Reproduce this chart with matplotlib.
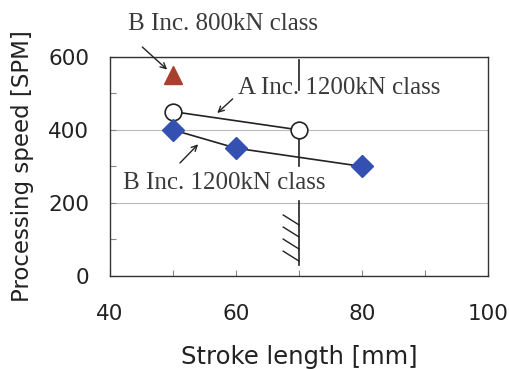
import numpy as np
import matplotlib
matplotlib.use('Agg')
import matplotlib.pyplot as plt

# donnees
stroke_a = [50, 70]
speed_a = [450, 400]
stroke_b = [50, 60, 80]
speed_b = [400, 350, 300]
stroke_b800 = [50]
speed_b800 = [550]
x_ticks = [40, 60, 80, 100]
y_ticks = [0, 200, 400, 600]
stroke_limit = 70

fig = plt.figure(figsize=(5.1, 3.69), dpi=100)
ax = fig.add_axes([0.2157, 0.252, 0.741, 0.594])

ax.set_xlim(40, 100)
ax.set_ylim(0, 600)
ax.set_xticks(x_ticks)
ax.set_yticks(y_ticks)
ax.set_xticks(range(40, 101, 10), minor=True)
ax.set_yticks(range(0, 601, 100), minor=True)
ax.tick_params(which='both', direction='in', length=4, width=0.8, color='#888888')
ax.tick_params(axis='y', which='major', labelsize=15.5, pad=15, labelcolor='#222222')
ax.tick_params(axis='x', which='major', labelsize=15.5, pad=20, labelcolor='#222222')
ax.grid(axis='y', which='major', color='#bbbbbb', lw=0.8)
for s in ax.spines.values():
    s.set_linewidth(1.0)
    s.set_color('#333333')

# limite de course (ligne verticale interrompue + hachures)
for y0, y1 in [(592, 510), (395, 300), (205, 30)]:
    ax.plot([stroke_limit, stroke_limit], [y0, y1], color='#222222', lw=1.2, zorder=2)
for yh in [140, 107, 74, 41]:
    ax.plot([stroke_limit - 2.5, stroke_limit], [yh + 27, yh], color='#222222', lw=1.0, zorder=2)

ax.plot(stroke_a, speed_a, color='#222222', lw=1.2, marker='o', ms=12,
        mfc='white', mec='#222222', mew=1.2, zorder=4)
ax.plot(stroke_b, speed_b, color='#222222', lw=1.2, marker='D', ms=11,
        mfc='#3450b0', mec='#3450b0', zorder=4)
ax.plot(stroke_b800, speed_b800, ls='none', marker='^', ms=13,
        mfc='#a8402f', mec='#a8402f', zorder=4)

serif = dict(family='Liberation Serif', fontsize=18, color='#3a3a3a')
arrow = dict(arrowstyle='->', color='#222222', lw=1.0)
ax.text(42.8, 690, 'B Inc. 800kN class', ha='left', va='center', clip_on=False, **serif)
ax.annotate('', xy=(49.4, 560), xytext=(44.8, 632), arrowprops=arrow, annotation_clip=False)
ax.text(60.4, 515, 'A Inc. 1200kN class', ha='left', va='center', **serif)
ax.annotate('', xy=(56.7, 441), xytext=(59.8, 490), arrowprops=arrow)
ax.text(42.0, 255, 'B Inc. 1200kN class', ha='left', va='center', **serif)
ax.annotate('', xy=(54.3, 366), xytext=(50.8, 304), arrowprops=arrow)

ax.set_xlabel('Stroke length [mm]', fontsize=17.5, labelpad=15, color='#222222')
ax.set_ylabel('Processing speed [SPM]', fontsize=16.5, labelpad=10, color='#222222')

fig.savefig('out.png', dpi=100)
